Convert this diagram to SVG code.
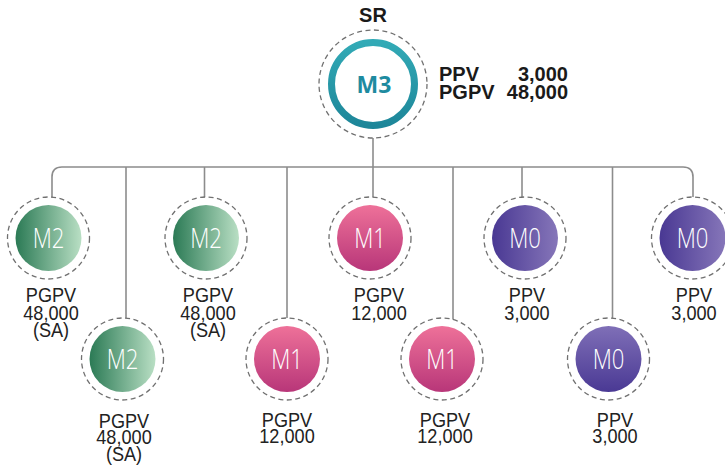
<svg xmlns="http://www.w3.org/2000/svg" width="725" height="469" viewBox="0 0 725 469">
<style>
.dash{fill:#fff;stroke:#707070;stroke-width:1.3;stroke-dasharray:5 3.5}
.conn{fill:none;stroke:#8c8c8c;stroke-width:1.6}
.ml{font-family:"Open Sans","Liberation Sans",sans-serif;font-weight:300;font-size:27px;fill:#fff;text-anchor:middle}
.lb{font-family:"Liberation Sans",Arial,sans-serif;font-size:19.5px;fill:#222;text-anchor:middle}
.hd{font-family:"Liberation Sans",Arial,sans-serif;font-size:20px;font-weight:bold;fill:#1a1a1a}
</style>
<defs>
<linearGradient id="gM2" x1="0" y1="0" x2="1" y2="0"><stop offset="0" stop-color="#2b7a55"/><stop offset="1" stop-color="#b9dfc4"/></linearGradient>
<linearGradient id="gM1" x1="0" y1="0" x2="0" y2="1"><stop offset="0" stop-color="#ee7199"/><stop offset="1" stop-color="#b83679"/></linearGradient>
<linearGradient id="gM0h" x1="0" y1="0" x2="1" y2="0"><stop offset="0" stop-color="#493893"/><stop offset="1" stop-color="#8676b9"/></linearGradient>
<linearGradient id="gM0v" x1="0" y1="0" x2="0" y2="1"><stop offset="0" stop-color="#7f6fb7"/><stop offset="1" stop-color="#4a3994"/></linearGradient>
<linearGradient id="gRing" x1="0" y1="0" x2="0" y2="1"><stop offset="0" stop-color="#32aab6"/><stop offset="1" stop-color="#1d8699"/></linearGradient>
</defs>

<g id="connectors">
<path class="conn" d="M373,138 V167"/>
<path class="conn" d="M52,198 V177 Q52,167 62,167 H683 Q693,167 693,177 V198"/>
<path class="conn" d="M126,167 V318"/>
<path class="conn" d="M204.5,167 V198"/>
<path class="conn" d="M287,167 V318"/>
<path class="conn" d="M373,167 V198"/>
<path class="conn" d="M453,167 V321"/>
<path class="conn" d="M522,167 V198"/>
<path class="conn" d="M612.5,167 V318"/>
</g>

<g id="root">
<text class="hd" x="373" y="22" text-anchor="middle" font-size="19">SR</text>
<circle class="dash" cx="373" cy="84" r="54"/>
<circle cx="373" cy="84" r="41.5" fill="#fff" stroke="url(#gRing)" stroke-width="7"/>
<text x="374" y="93" text-anchor="middle" font-family="'Open Sans','Liberation Sans',sans-serif" font-weight="700" font-size="23" fill="#1e8ba0">M3</text>
<text class="hd" x="439" y="81">PPV</text>
<text class="hd" x="568" y="81" text-anchor="end">3,000</text>
<text class="hd" x="439" y="99">PGPV</text>
<text class="hd" x="568" y="99" text-anchor="end">48,000</text>
</g>

<g id="n1">
<circle class="dash" cx="48.5" cy="238" r="41"/>
<circle cx="48.5" cy="238" r="33" fill="url(#gM2)"/>
<text class="ml" transform="translate(48.5,247.5) scale(0.82,1)">M2</text>
<g transform="translate(51,0) scale(0.93,1)"><text class="lb" x="0" y="302.5">PGPV</text><text class="lb" x="0" y="320">48,000</text><text class="lb" x="0" y="337.5">(SA)</text></g>
</g>

<g id="n2">
<circle class="dash" cx="122.5" cy="359" r="41"/>
<circle cx="122.5" cy="359" r="33" fill="url(#gM2)"/>
<text class="ml" transform="translate(122.5,368.5) scale(0.82,1)">M2</text>
<g transform="translate(124,0) scale(0.93,1)"><text class="lb" x="0" y="428">PGPV</text><text class="lb" x="0" y="444.5">48,000</text><text class="lb" x="0" y="461">(SA)</text></g>
</g>

<g id="n3">
<circle class="dash" cx="206" cy="238" r="41"/>
<circle cx="206" cy="238" r="33" fill="url(#gM2)"/>
<text class="ml" transform="translate(206,247.5) scale(0.82,1)">M2</text>
<g transform="translate(208,0) scale(0.93,1)"><text class="lb" x="0" y="302.5">PGPV</text><text class="lb" x="0" y="320">48,000</text><text class="lb" x="0" y="337.5">(SA)</text></g>
</g>

<g id="n4">
<circle class="dash" cx="287" cy="359" r="41"/>
<circle cx="287" cy="359" r="33" fill="url(#gM1)"/>
<text class="ml" transform="translate(287,368.5) scale(0.82,1)">M1</text>
<g transform="translate(287,0) scale(0.93,1)"><text class="lb" x="0" y="427">PGPV</text><text class="lb" x="0" y="443.5">12,000</text></g>
</g>

<g id="n5">
<circle class="dash" cx="370" cy="238" r="41"/>
<circle cx="370" cy="238" r="33" fill="url(#gM1)"/>
<text class="ml" transform="translate(370,247.5) scale(0.82,1)">M1</text>
<g transform="translate(379,0) scale(0.93,1)"><text class="lb" x="0" y="302.5">PGPV</text><text class="lb" x="0" y="320">12,000</text></g>
</g>

<g id="n6">
<circle class="dash" cx="442" cy="359" r="41"/>
<circle cx="442" cy="359" r="33" fill="url(#gM1)"/>
<text class="ml" transform="translate(442,368.5) scale(0.82,1)">M1</text>
<g transform="translate(445,0) scale(0.93,1)"><text class="lb" x="0" y="427">PGPV</text><text class="lb" x="0" y="443.5">12,000</text></g>
</g>

<g id="n7">
<circle class="dash" cx="525" cy="238" r="41"/>
<circle cx="525" cy="238" r="33" fill="url(#gM0h)"/>
<text class="ml" transform="translate(525,247.5) scale(0.82,1)">M0</text>
<g transform="translate(527,0) scale(0.93,1)"><text class="lb" x="0" y="302.5">PPV</text><text class="lb" x="0" y="320">3,000</text></g>
</g>

<g id="n8">
<circle class="dash" cx="608.5" cy="359" r="41"/>
<circle cx="608.5" cy="359" r="33" fill="url(#gM0v)"/>
<text class="ml" transform="translate(608.5,368.5) scale(0.82,1)">M0</text>
<g transform="translate(615,0) scale(0.93,1)"><text class="lb" x="0" y="427">PPV</text><text class="lb" x="0" y="443.5">3,000</text></g>
</g>

<g id="n9">
<circle class="dash" cx="692.5" cy="238" r="41"/>
<circle cx="692.5" cy="238" r="33" fill="url(#gM0h)"/>
<text class="ml" transform="translate(692.5,247.5) scale(0.82,1)">M0</text>
<g transform="translate(694,0) scale(0.93,1)"><text class="lb" x="0" y="302.5">PPV</text><text class="lb" x="0" y="320">3,000</text></g>
</g>
</svg>
